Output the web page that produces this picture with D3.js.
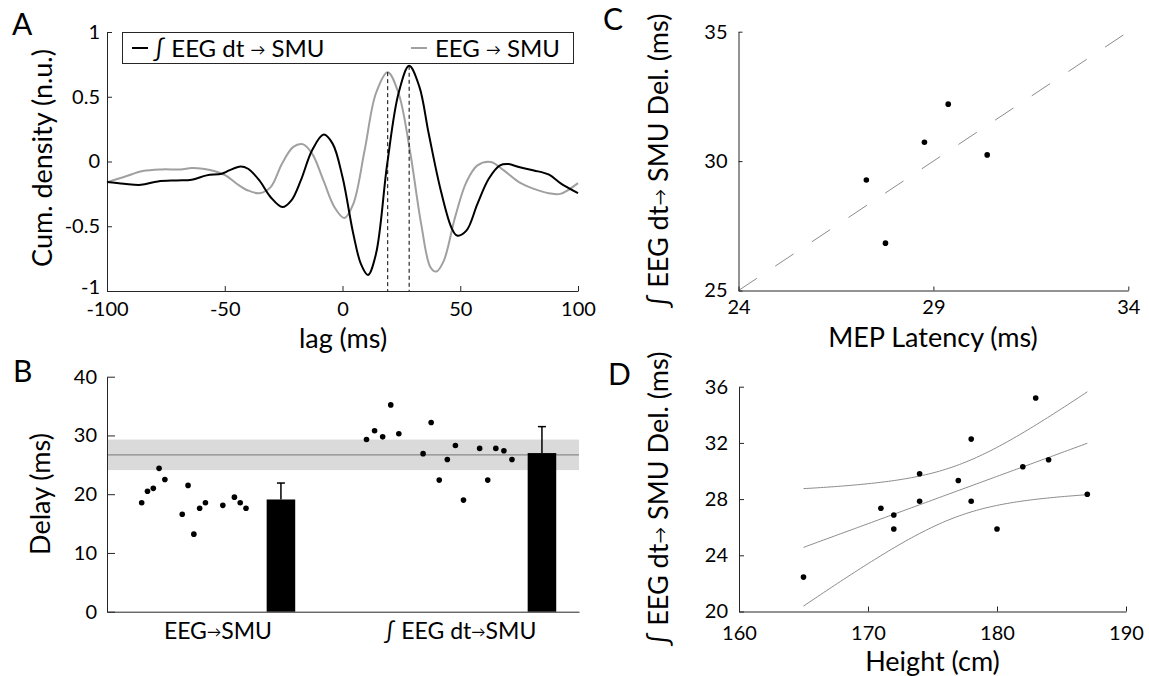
<!DOCTYPE html>
<html><head><meta charset="utf-8">
<script src="https://cdn.jsdelivr.net/npm/d3@7"></script>
<style>
body{margin:0;background:#fff}
svg{display:block}
</style></head><body>
<svg id="c" width="1149" height="676"></svg>
<script>
// ---------------- Panel A data: cumulant density vs lag ----------------
const lagBlack = [-100,-92.8,-85.6,-78.4,-70.4,-64,-57.7,-51.3,-48.1,-43.3,-40.1,-35.3,-30.5,-25.5,-21.7,-17.7,-12.9,-8,-4.2,0,4.6,7.8,10.8,14.2,19,23.8,28.3,32.6,36.6,41.4,46.2,48.6,52.6,57.3,62.1,66.9,70.5,74.9,81.3,87.7,92.5,100];
const valBlack = [-0.159,-0.172,-0.18,-0.154,-0.146,-0.141,-0.107,-0.094,-0.069,-0.038,-0.056,-0.146,-0.276,-0.352,-0.30,-0.146,0.087,0.208,0.138,-0.12,-0.56,-0.79,-0.876,-0.715,-0.017,0.527,0.739,0.58,0.216,-0.198,-0.508,-0.572,-0.534,-0.327,-0.133,-0.03,-0.02,-0.043,-0.069,-0.102,-0.167,-0.245];
const lagGray = [-100,-92.8,-84.8,-76.8,-68.8,-64,-59.3,-54.5,-49.7,-44.9,-40.1,-35.3,-30.5,-25.7,-20.9,-16.9,-12.9,-8.1,-3.4,0.8,4.6,9.4,14.2,19.2,23.8,28.6,33.4,37.4,39.8,43,47.8,52.6,57.3,63,68.5,74.9,81.3,87.7,92.5,100];
const valGray = [-0.159,-0.12,-0.074,-0.061,-0.061,-0.05,-0.056,-0.074,-0.107,-0.172,-0.224,-0.245,-0.198,-0.017,0.113,0.134,0.061,-0.146,-0.353,-0.436,-0.327,0.087,0.527,0.69,0.527,0.087,-0.482,-0.819,-0.85,-0.767,-0.43,-0.159,-0.03,-0.004,-0.069,-0.159,-0.211,-0.245,-0.25,-0.167];
const peakLags = [19.2, 28.3];
const peakVals = [0.69, 0.739];
const aXTicks = [-100,-50,0,50,100];
const aYTicks = [-1,-0.5,0,0.5,1];
const legendLabels = ["\u222B EEG dt \u2192 SMU", "EEG \u2192 SMU"];

// ---------------- Panel B data: delays ----------------
const bCategories = ["EEG\u2192SMU", "\u222B EEG dt\u2192SMU"];
const bSlots1 = [0,1,2,3,4,7,8,9,10,11,14,16,17,18];
const bDelay1 = [18.55,20.5,21.0,24.4,22.5,16.6,21.5,13.2,17.6,18.55,18.1,19.5,18.55,17.6];
const bSlots2 = [0,1,2,3,4,7,8,9,10,11,12,14,15,16,17,18];
const bDelay2 = [29.3,30.8,29.76,35.2,30.3,26.9,32.2,22.4,25.9,28.3,19.0,27.8,22.4,27.8,27.4,25.9];
const bMeans = [19.1, 27.0];
const bErrors = [2.8, 4.5];
const bRefMean = 26.7;
const bRefBand = [24.1, 29.3];
const bYTicks = [0,10,20,30,40];

// ---------------- Panel C data ----------------
const cMEP = [27.28, 27.77, 28.77, 29.38, 30.38];
const cDelay = [29.27, 26.83, 30.73, 32.2, 30.24];
const cXTicks = [24, 29, 34];
const cYTicks = [25, 30, 35];

// ---------------- Panel D data ----------------
const dHeight = [165,171,172,172,174,174,177,178,178,180,182,183,184,187];
const dDelay = [22.45,27.35,26.87,25.87,29.8,27.85,29.32,32.27,27.85,25.87,30.3,35.2,30.8,28.35];
const dXTicks = [160,170,180,190];
const dYTicks = [20,24,28,32,36];
const bandMultiplier = 2.7876; // sqrt(2*F(0.95;2,12)) simultaneous band
const yLabelCD = "\u222B EEG dt\u2192 SMU Del. (ms)";

// ---------------- styles ----------------
const FONT = "Lato, 'Open Sans', sans-serif";
const AX = "#262626";
const TICK = 20, LABEL = 27, LETTER = 30;

const svg = d3.select("#c");
svg.append("rect").attr("width",1149).attr("height",676).attr("fill","#fff");

function styleAxis(g){
  g.select(".domain").attr("stroke",AX).attr("stroke-width",1);
  g.selectAll(".tick line").attr("stroke",AX);
  g.selectAll(".tick text").attr("font-family",FONT).attr("font-size",TICK).attr("fill","#000");
}
// writes text, drawing the arrow glyph smaller (as in the figure)
function richText(t, txt){
  const parts = txt.split("\u2192");
  parts.forEach((p,i)=>{
    if(i>0){
      t.append("tspan").attr("font-size","0.62em").attr("dy","-0.12em").text("\u2192");
      t.append("tspan").attr("dy","0.08em").text(p);
    } else t.append("tspan").text(p);
  });
  return t;
}
function label(x,y,txt,size,rot,anchor){
  const t = svg.append("text").attr("font-family",FONT).attr("font-size",size).attr("fill","#000")
    .attr("text-anchor",anchor||"middle");
  richText(t, txt);
  if(rot) t.attr("transform",`translate(${x},${y}) rotate(${rot})`); else t.attr("x",x).attr("y",y);
  return t;
}
const fmt = d => String(d);

// ================= Panel A =================
const xA = d3.scaleLinear().domain([-100,100]).range([107,578]);
const yA = d3.scaleLinear().domain([-1,1]).range([291,32]);
svg.append("g").attr("transform",`translate(0,${yA(-1)})`)
  .call(d3.axisBottom(xA).tickValues(aXTicks).tickFormat(fmt).tickSizeInner(-5).tickSizeOuter(0).tickPadding(11)).call(styleAxis);
const gAy = svg.append("g").attr("transform",`translate(${xA(-100)},0)`)
  .call(d3.axisLeft(yA).tickValues(aYTicks).tickFormat(fmt).tickSizeInner(-5).tickSizeOuter(0).tickPadding(7)).call(styleAxis);
gAy.selectAll(".tick text").filter(d=>d===-1).attr("dy","0.1em");

const lineA = d3.line().x(d=>xA(d[0])).y(d=>yA(d[1])).curve(d3.curveCatmullRom.alpha(0.5));
svg.append("path").datum(d3.zip(lagGray,valGray)).attr("d",lineA)
  .attr("fill","none").attr("stroke","#a0a0a0").attr("stroke-width",2);
svg.append("path").datum(d3.zip(lagBlack,valBlack)).attr("d",lineA)
  .attr("fill","none").attr("stroke","#000").attr("stroke-width",2);
svg.selectAll(".peak").data(d3.zip(peakLags,peakVals)).join("line")
  .attr("x1",d=>xA(d[0])).attr("x2",d=>xA(d[0]))
  .attr("y1",d=>yA(d[1])).attr("y2",yA(-1))
  .attr("stroke","#000").attr("stroke-width",1).attr("stroke-dasharray","4,3");

// legend
const lg = svg.append("g");
lg.append("rect").attr("x",122.5).attr("y",32.5).attr("width",451).attr("height",31)
  .attr("fill","#fff").attr("stroke",AX).attr("stroke-width",1);
lg.append("line").attr("x1",132).attr("x2",148).attr("y1",48).attr("y2",48).attr("stroke","#000").attr("stroke-width",2);
richText(lg.append("text").attr("x",153).attr("y",57).attr("font-family",FONT).attr("font-size",24), legendLabels[0]);
lg.append("line").attr("x1",411).attr("x2",427).attr("y1",48).attr("y2",48).attr("stroke","#a0a0a0").attr("stroke-width",2);
richText(lg.append("text").attr("x",435).attr("y",57).attr("font-family",FONT).attr("font-size",24), legendLabels[1]);

label(343,348,"lag (ms)",LABEL);
label(52,158,"Cum. density (n.u.)",LABEL,-90);
label(12,35,"A",LETTER,0,"start");

// ================= Panel B =================
const yB = d3.scaleLinear().domain([0,40]).range([611.7,376.7]);
const xBand = d3.scaleBand().domain(bCategories).range([107,579]);
const bw = xBand.bandwidth();
const groupLayout = [
  {dot0:0.147, dot1:0.589, bar:0.737, lab:0.47},
  {dot0:0.0996, dot1:0.716, bar:0.843, lab:0.496}
];
const barW = 0.121*bw;
// reference band
svg.append("rect").attr("x",xBand.range()[0]).attr("width",xBand.range()[1]-xBand.range()[0])
  .attr("y",yB(bRefBand[1])).attr("height",yB(bRefBand[0])-yB(bRefBand[1])).attr("fill","#dadada");
svg.append("line").attr("x1",xBand.range()[0]).attr("x2",xBand.range()[1])
  .attr("y1",yB(bRefMean)).attr("y2",yB(bRefMean)).attr("stroke","#8a8a8a").attr("stroke-width",1.2);

svg.append("g").attr("transform",`translate(0,${yB(0)})`)
  .call(d3.axisBottom(d3.scaleLinear().range(xBand.range())).tickValues([]).tickSizeOuter(0)).call(styleAxis);
svg.append("g").attr("transform",`translate(${xBand.range()[0]},0)`)
  .call(d3.axisLeft(yB).tickValues(bYTicks).tickFormat(fmt).tickSizeInner(-8).tickSizeOuter(0).tickPadding(10)).call(styleAxis);

const groups = [[bSlots1,bDelay1],[bSlots2,bDelay2]];
groups.forEach((gd,i)=>{
  const cat = bCategories[i], L = groupLayout[i], x0 = xBand(cat);
  const xs = d3.scaleLinear().domain([0,18]).range([x0+L.dot0*bw, x0+L.dot1*bw]);
  svg.append("g").selectAll("circle").data(d3.zip(gd[0],gd[1])).join("circle")
    .attr("cx",d=>xs(d[0])).attr("cy",d=>yB(d[1])).attr("r",2.8).attr("fill","#000");
  const bc = x0+L.bar*bw;
  svg.append("rect").attr("x",bc-barW/2).attr("width",barW).attr("y",yB(bMeans[i]))
    .attr("height",yB(0)-yB(bMeans[i])).attr("fill","#000");
  svg.append("line").attr("x1",bc).attr("x2",bc).attr("y1",yB(bMeans[i])).attr("y2",yB(bMeans[i]+bErrors[i]))
    .attr("stroke","#000").attr("stroke-width",1.5);
  svg.append("line").attr("x1",bc-4).attr("x2",bc+4).attr("y1",yB(bMeans[i]+bErrors[i])).attr("y2",yB(bMeans[i]+bErrors[i]))
    .attr("stroke","#000").attr("stroke-width",1.5);
  label(x0+L.lab*bw,639,cat,23);
});
label(50,494,"Delay (ms)",LABEL,-90);
label(13,382,"B",LETTER,0,"start");

// ================= Panel C =================
const xC = d3.scaleLinear().domain([24,34]).range([738.5,1128.3]);
const yC = d3.scaleLinear().domain([25,35]).range([290.5,31.7]);
svg.append("line").attr("x1",xC(xC.domain()[0])).attr("y1",yC(yC.domain()[0]))
  .attr("x2",xC(xC.domain()[1])).attr("y2",yC(yC.domain()[1]))
  .attr("stroke","#8c8c8c").attr("stroke-width",1).attr("stroke-dasharray","22,22");
svg.append("g").attr("transform",`translate(0,${yC(25)})`)
  .call(d3.axisBottom(xC).tickValues(cXTicks).tickFormat(fmt).tickSizeInner(-4).tickSizeOuter(0).tickPadding(9)).call(styleAxis);
svg.append("g").attr("transform",`translate(${xC(24)},0)`)
  .call(d3.axisLeft(yC).tickValues(cYTicks).tickFormat(fmt).tickSizeInner(-4).tickSizeOuter(0).tickPadding(11)).call(styleAxis);
svg.append("g").selectAll("circle").data(d3.zip(cMEP,cDelay)).join("circle")
  .attr("cx",d=>xC(d[0])).attr("cy",d=>yC(d[1])).attr("r",2.8).attr("fill","#000");
label(933,347,"MEP Latency (ms)",LABEL);
label(668,161,yLabelCD,LABEL,-90);
label(603,30,"C",LETTER,0,"start");

// ================= Panel D =================
const xD = d3.scaleLinear().domain([160,190]).range([739,1126]);
const yD = d3.scaleLinear().domain([20,36]).range([611.5,386.7]);
svg.append("g").attr("transform",`translate(0,${yD(20)})`)
  .call(d3.axisBottom(xD).tickValues(dXTicks).tickFormat(fmt).tickSizeInner(-5).tickSizeOuter(0).tickPadding(14)).call(styleAxis);
svg.append("g").attr("transform",`translate(${xD(160)},0)`)
  .call(d3.axisLeft(yD).tickValues(dYTicks).tickFormat(fmt).tickSizeInner(-5).tickSizeOuter(0).tickPadding(11)).call(styleAxis);

// linear regression with simultaneous confidence band, computed from the data
const n = dHeight.length, mx = d3.mean(dHeight), my = d3.mean(dDelay);
const sxx = d3.sum(dHeight, h => (h-mx)**2);
const sxy = d3.sum(d3.zip(dHeight,dDelay), p => (p[0]-mx)*(p[1]-my));
const slope = sxy/sxx, icpt = my - slope*mx;
const sse = d3.sum(d3.zip(dHeight,dDelay), p => (p[1]-(icpt+slope*p[0]))**2);
const sRes = Math.sqrt(sse/(n-2));
const [hMin,hMax] = d3.extent(dHeight);
const fitX = d3.range(0,101).map(i => hMin + (hMax-hMin)*i/100);
const fit = fitX.map(h => {
  const m = icpt+slope*h, hw = bandMultiplier*sRes*Math.sqrt(1/n + (h-mx)**2/sxx);
  return {h, m, lo:m-hw, hi:m+hw};
});
["m","lo","hi"].forEach(k=>{
  svg.append("path").datum(fit).attr("d",d3.line().x(d=>xD(d.h)).y(d=>yD(d[k])))
    .attr("fill","none").attr("stroke","#8c8c8c").attr("stroke-width",1);
});
svg.append("g").selectAll("circle").data(d3.zip(dHeight,dDelay)).join("circle")
  .attr("cx",d=>xD(d[0])).attr("cy",d=>yD(d[1])).attr("r",2.8).attr("fill","#000");
label(932.5,671,"Height (cm)",LABEL);
label(668,499,yLabelCD,LABEL,-90);
label(608,385,"D",LETTER,0,"start");
</script>
</body></html>
